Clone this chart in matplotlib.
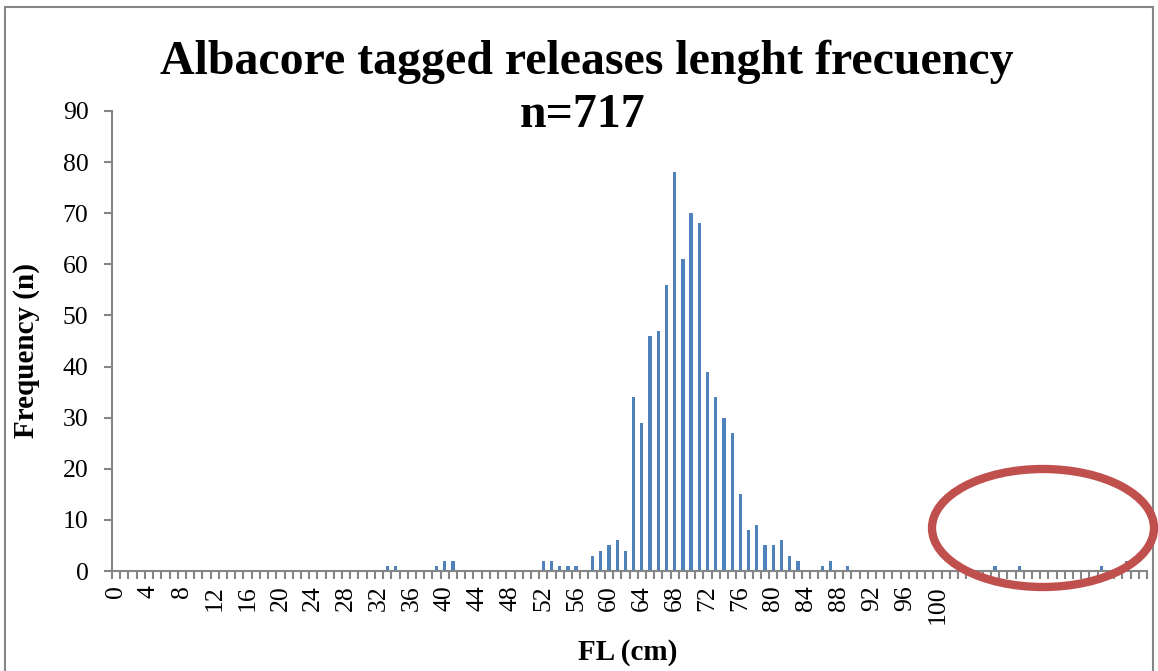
import numpy as np
import matplotlib.pyplot as plt
from matplotlib.patches import Rectangle, Ellipse

# FL (cm) classes 0..125, frequencies
fl_classes = list(range(126))
freq_pairs = [
    (33, 1), (34, 1), (39, 1), (40, 2), (41, 2),
    (52, 2), (53, 2), (54, 1), (55, 1), (56, 1),
    (58, 3), (59, 4), (60, 5), (61, 6), (62, 4),
    (63, 34), (64, 29), (65, 46), (66, 47), (67, 56), (68, 78),
    (69, 61), (70, 70), (71, 68), (72, 39), (73, 34), (74, 30),
    (75, 27), (76, 15), (77, 8), (78, 9), (79, 5), (80, 5),
    (81, 6), (82, 3), (83, 2), (86, 1), (87, 2), (89, 1),
    (107, 1), (110, 1), (120, 1), (123, 2),
]
tick_labels = [str(v) for v in range(0, 101, 4)]

W, H = 1158, 671


def main():
    counts = np.zeros(len(fl_classes))
    for k, n in freq_pairs:
        counts[k] = n

    plt.rcParams['font.family'] = ['Liberation Serif', 'DejaVu Serif']
    fig = plt.figure(figsize=(W / 100, H / 100), dpi=100)
    ax = fig.add_axes([112 / W, 1 - 571 / H, (1147 - 112) / W, (571 - 111) / H])

    ax.bar(fl_classes, counts, width=0.4, color='#4F81BD')
    ax.set_xlim(-0.5, len(fl_classes) - 0.5)
    ax.set_ylim(0, 90)
    ax.set_yticks(range(0, 91, 10))

    grey = '#868686'
    for s in ['top', 'right']:
        ax.spines[s].set_visible(False)
    for s in ['left', 'bottom']:
        ax.spines[s].set_color(grey)
        ax.spines[s].set_linewidth(1.5)

    ax.set_xticks(range(0, 101, 4))
    ax.set_xticklabels(tick_labels, rotation=90, fontsize=18.5)
    ax.set_xticks(np.arange(-0.5, len(fl_classes), 1), minor=True)
    ax.tick_params(axis='x', which='major', length=0, pad=10)
    ax.tick_params(axis='x', which='minor', length=6, width=1.5, color=grey)
    ax.tick_params(axis='y', length=6, width=1.5, color=grey, labelsize=18.5, pad=11)

    fig.text(587 / W, 1 - 74 / H, 'Albacore tagged releases lenght frecuency',
             ha='center', va='baseline', fontsize=34.5, fontweight='bold')
    fig.text(583 / W, 1 - 127 / H, 'n=717',
             ha='center', va='baseline', fontsize=34.5, fontweight='bold')
    fig.text(27 / W, 1 - 350 / H, 'Frequency (n)', rotation=90,
             ha='center', va='center', fontsize=21, fontweight='bold')
    fig.text(628 / W, 1 - 653 / H, 'FL (cm)',
             ha='center', va='center', fontsize=21, fontweight='bold')

    # chart frame
    fig.patches.append(Rectangle((5 / W, -0.05), (1153 - 5) / W, 1.05 - 7 / H,
                                 transform=fig.transFigure, fill=False,
                                 edgecolor=grey, linewidth=1.5))
    # red highlight ellipse
    fig.patches.append(Ellipse((1043 / W, 1 - 528 / H), 222 / W, 118 / H,
                               transform=fig.transFigure, fill=False,
                               edgecolor='#C0504D', linewidth=6))

    fig.savefig('out.png', dpi=100)


if __name__ == "__main__":
    main()
